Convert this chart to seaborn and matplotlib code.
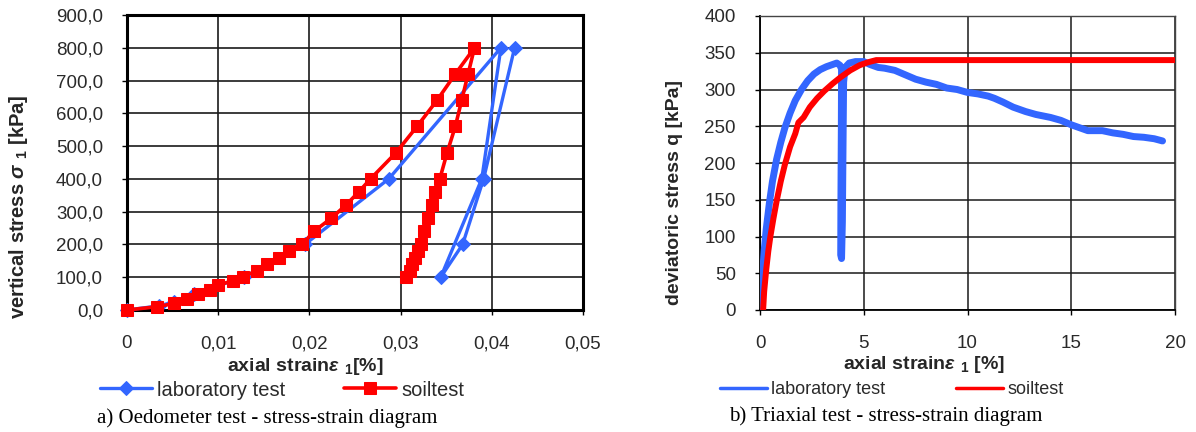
import matplotlib
matplotlib.use("Agg")
import matplotlib.pyplot as plt
from matplotlib.ticker import FuncFormatter, MultipleLocator
import pandas as pd
import seaborn as sns

# ---- Oedometer test (strain in %, vertical stress in kPa) ----
oed_lab_strain = [0.0, 0.0035, 0.0052, 0.0074, 0.0128, 0.0195, 0.0287, 0.0410,
                  0.0389, 0.0344, 0.0368, 0.0391, 0.0425]
oed_lab_stress = [0.0, 12.5, 25.0, 50.0, 100.0, 200.0, 400.0, 800.0,
                  400.0, 100.0, 200.0, 400.0, 800.0]

oed_soil_strain = [0.0, 0.0033, 0.0052, 0.0066, 0.0078, 0.0091, 0.0100, 0.0116,
                   0.0127, 0.0142, 0.0154, 0.0167, 0.0178, 0.0192, 0.0205, 0.0224,
                   0.0240, 0.0254, 0.0267, 0.0295, 0.0318, 0.0340, 0.0360, 0.0381,
                   0.0374, 0.0367, 0.0360, 0.0351, 0.0343, 0.0338, 0.0334, 0.0330,
                   0.0326, 0.0322, 0.0319, 0.0316, 0.0313, 0.0310, 0.0306]
oed_soil_stress = [0, 10, 20, 35, 50, 60, 75, 90,
                   100, 120, 140, 160, 180, 200, 240, 280,
                   320, 360, 400, 480, 560, 640, 720, 800,
                   720, 640, 560, 480, 400, 360, 320, 280,
                   240, 200, 180, 160, 140, 120, 100]

# ---- Triaxial test (strain in %, deviatoric stress in kPa) ----
tri_lab_strain = [0.0, 0.1, 0.2, 0.3, 0.45, 0.6, 0.8, 1.0, 1.2, 1.45, 1.7, 2.0,
                  2.3, 2.6, 2.9, 3.2, 3.5, 3.7, 3.85, 3.93, 3.92, 3.90, 3.89,
                  3.93, 3.97, 4.00, 4.03, 4.10, 4.30, 4.6, 5.0, 5.3, 5.7, 6.0,
                  6.5, 7.0, 7.5, 8.0, 8.5, 9.0, 9.5, 10.0, 10.5, 11.0, 11.3,
                  11.7, 12.2, 12.8, 13.3, 14.0, 14.5, 15.0, 15.5, 15.8, 16.5,
                  17.0, 17.5, 18.0, 18.5, 19.0, 19.4]
tri_lab_q = [0, 40, 80, 110, 145, 175, 205, 228, 248, 268, 285, 300,
             312, 321, 327, 331, 334, 336, 333, 328, 250, 150, 75,
             70, 120, 220, 310, 330, 336, 338, 338, 334, 330, 329,
             326, 320, 314, 310, 307, 302, 300, 296, 294, 291, 288,
             283, 276, 270, 266, 262, 258, 252, 247, 244, 244,
             241, 239, 236, 235, 233, 230]

tri_soil_strain = [0.15, 0.2, 0.3, 0.4, 0.5, 0.65, 0.8, 1.0, 1.2, 1.45, 1.7,
                   1.85, 2.1, 2.4, 2.75, 3.1, 3.5, 3.9, 4.35, 4.8, 5.2, 5.6, 20.0]
tri_soil_q = [0, 25, 55, 80, 100, 125, 148, 175, 198, 222, 240,
              255, 262, 276, 288, 298, 308, 317, 326, 333, 337, 340, 340]

series_names = ["laboratory test", "soiltest"]
captions = ["a) Oedometer test - stress-strain diagram",
            "b) Triaxial test - stress-strain diagram"]

BLUE = "#3366FF"
RED = "#FF0000"

sns.set_theme(style="white")
plt.rcParams["font.family"] = ["Liberation Sans", "DejaVu Sans"]
plt.rcParams["mathtext.fontset"] = "custom"
plt.rcParams["mathtext.rm"] = "Liberation Sans"
plt.rcParams["mathtext.it"] = "Liberation Sans:italic:bold"
plt.rcParams["mathtext.bf"] = "Liberation Sans:bold"

W, H = 1196, 432
fig = plt.figure(figsize=(W / 100, H / 100), dpi=100)
fig.patch.set_facecolor("white")


def px_axes(x0, y0, x1, y1):
    return fig.add_axes([x0 / W, 1 - y1 / H, (x1 - x0) / W, (y1 - y0) / H])


axL = px_axes(127, 15, 583, 310)
axR = px_axes(760, 16, 1175, 310)

# ---------------- left: oedometer ----------------
df_lab = pd.DataFrame({"strain": oed_lab_strain, "stress": oed_lab_stress})
df_soil = pd.DataFrame({"strain": oed_soil_strain, "stress": oed_soil_stress})

sns.lineplot(data=df_lab, x="strain", y="stress", sort=False, estimator=None,
             ax=axL, color=BLUE, lw=2.4, marker="D", markersize=7,
             markeredgecolor=BLUE, label=series_names[0], clip_on=False, zorder=3)
sns.lineplot(data=df_soil, x="strain", y="stress", sort=False, estimator=None,
             ax=axL, color=RED, lw=2.6, marker="s", markersize=8.5,
             markeredgecolor=RED, label=series_names[1], clip_on=False, zorder=4)

axL.set_xlim(0, 0.05)
axL.set_ylim(0, 900)
axL.xaxis.set_major_locator(MultipleLocator(0.01))
axL.yaxis.set_major_locator(MultipleLocator(100))
axL.xaxis.set_major_formatter(FuncFormatter(
    lambda v, p: "0" if abs(v) < 1e-12 else f"{v:.2f}".replace(".", ",")))
axL.yaxis.set_major_formatter(FuncFormatter(lambda v, p: f"{v:.1f}".replace(".", ",")))
for s in axL.spines.values():
    s.set_color("black")
    s.set_linewidth(2.2)

# ---------------- right: triaxial ----------------
df_tl = pd.DataFrame({"strain": tri_lab_strain, "q": tri_lab_q})
df_ts = pd.DataFrame({"strain": tri_soil_strain, "q": tri_soil_q})
sns.lineplot(data=df_tl, x="strain", y="q", sort=False, estimator=None, ax=axR,
             color=BLUE, lw=5.0, label=series_names[0], zorder=3,
             solid_joinstyle="round", solid_capstyle="round")
sns.lineplot(data=df_ts, x="strain", y="q", sort=False, estimator=None, ax=axR,
             color=RED, lw=4.3, label=series_names[1], zorder=4)

axR.set_xlim(0, 20)
axR.set_ylim(0, 400)
axR.xaxis.set_major_locator(MultipleLocator(5))
axR.yaxis.set_major_locator(MultipleLocator(50))
axR.xaxis.set_major_formatter(FuncFormatter(lambda v, p: f"{v:.0f}"))
axR.yaxis.set_major_formatter(FuncFormatter(lambda v, p: f"{v:.0f}"))
for side in ["left", "bottom"]:
    axR.spines[side].set_color("black")
    axR.spines[side].set_linewidth(1.3)
for side in ["top", "right"]:
    axR.spines[side].set_color("#444444")
    axR.spines[side].set_linewidth(1.0)

# ---------------- shared styling ----------------
for ax, gw in [(axL, 1.2), (axR, 1.1)]:
    ax.set_axisbelow(True)
    ax.grid(True, color="#1a1a1a", lw=gw)
    ax.tick_params(axis="both", which="major", direction="out", length=3.8,
                   width=1.0, color="black", labelsize=13.5, labelcolor="#2a2a2a",
                   bottom=True, left=True)
    ax.tick_params(axis="x", pad=14.5)
    ax.tick_params(axis="y", pad=13.5)
    ax.set_facecolor("white")
    ax.get_legend().remove()

axL.set_xlabel(r"axial strain$\varepsilon\ {}_{\mathbf{1}}$[%]", fontsize=14,
               fontweight="bold", va="center")
axL.xaxis.set_label_coords(0.39, -0.19)
axL.set_ylabel(r"vertical stress $\sigma\ {}_{\mathbf{1}}$ [kPa]", fontsize=14.5,
               fontweight="bold", va="center")
axL.yaxis.set_label_coords(-0.239, 0.349)

axR.set_xlabel(r"axial strain$\varepsilon\ {}_{\mathbf{1}}$ [%]", fontsize=14,
               fontweight="bold", va="center")
axR.xaxis.set_label_coords(0.395, -0.185)
axR.set_ylabel("deviatoric stress q [kPa]", fontsize=14, fontweight="bold",
               va="center")
axR.yaxis.set_label_coords(-0.205, 0.40)

# legends beneath each panel
hL, lL = axL.get_legend_handles_labels()
fig.legend(hL, lL, loc="center left", bbox_to_anchor=(100 / W, 1 - 390 / H),
           ncol=2, frameon=False, fontsize=14.5, handlelength=2.6,
           handletextpad=0.25, columnspacing=2.9, borderpad=0,
           borderaxespad=0, labelcolor="#2a2a2a")
hR, lR = axR.get_legend_handles_labels()
legR = fig.legend(hR, lR, loc="center left", bbox_to_anchor=(720 / W, 1 - 390 / H),
                  ncol=2, frameon=False, fontsize=13, handlelength=2.6,
                  handletextpad=0.25, columnspacing=3.9, borderpad=0,
                  borderaxespad=0, labelcolor="#2a2a2a")
for line in legR.get_lines():
    line.set_linewidth(2.5)

fig.text(267 / W, 1 - 418 / H, captions[0], ha="center", va="center",
         fontsize=15, family="Liberation Serif", color="black")
fig.text(886 / W, 1 - 416 / H, captions[1], ha="center", va="center",
         fontsize=15, family="Liberation Serif", color="black")

fig.savefig("out.png", dpi=100, facecolor="white")
